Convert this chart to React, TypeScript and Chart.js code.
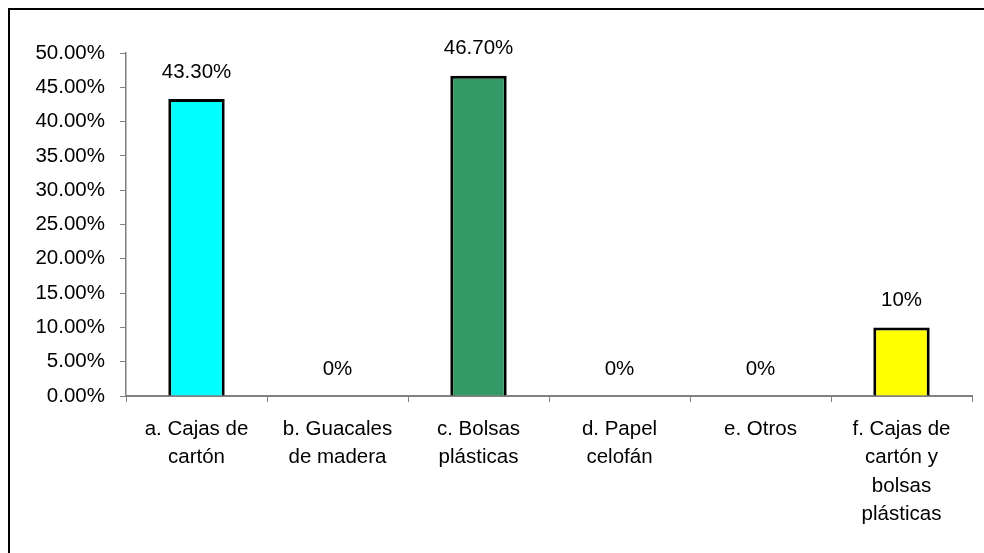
import React, { useEffect, useRef } from "react";
import { Chart, registerables } from "chart.js";

Chart.register(...registerables);

const categories: string[][] = [
  ["a. Cajas de", "cartón"],
  ["b. Guacales", "de madera"],
  ["c. Bolsas", "plásticas"],
  ["d. Papel", "celofán"],
  ["e. Otros"],
  ["f. Cajas de", "cartón y", "bolsas", "plásticas"],
];
const values: number[] = [43.3, 0, 46.7, 0, 0, 10];
const valueLabels: string[] = ["43.30%", "0%", "46.70%", "0%", "0%", "10%"];
const barColors: string[] = ["#00FFFF", "#339966", "#339966", "#339966", "#339966", "#FFFF00"];
const yTickLabels: string[] = [
  "0.00%", "5.00%", "10.00%", "15.00%", "20.00%", "25.00%",
  "30.00%", "35.00%", "40.00%", "45.00%", "50.00%",
];

const FONT = "'Liberation Sans', Arial, sans-serif";
const FONT_SIZE = 20.5;

const valueLabelPlugin = {
  id: "valueLabels",
  afterDatasetsDraw(chart: any) {
    const ctx = chart.ctx;
    const meta = chart.getDatasetMeta(0);
    ctx.save();
    ctx.font = `${FONT_SIZE}px ${FONT}`;
    ctx.fillStyle = "#000";
    ctx.textAlign = "center";
    ctx.textBaseline = "middle";
    meta.data.forEach((bar: any, i: number) => {
      ctx.fillText(valueLabels[i], bar.x, bar.y - 27);
    });
    ctx.restore();
  },
};

export default function App() {
  const ref = useRef<HTMLCanvasElement | null>(null);
  useEffect(() => {
    if (!ref.current) return;
    const chart = new Chart(ref.current, {
      type: "bar",
      data: {
        labels: categories,
        datasets: [
          {
            data: values,
            backgroundColor: barColors,
            borderColor: "#000",
            borderWidth: 3,
            barPercentage: 0.4,
            categoryPercentage: 1,
          },
        ],
      },
      options: {
        animation: false,
        responsive: false,
        maintainAspectRatio: false,
        layout: { padding: { left: 0, top: 53, right: 12, bottom: 0 } },
        plugins: { legend: { display: false }, tooltip: { enabled: false } },
        scales: {
          x: {
            grid: {
              display: true,
              drawOnChartArea: false,
              drawTicks: true,
              tickLength: 6,
              color: "#808080",
              lineWidth: 1,
              offset: true,
            },
            border: { display: true, color: "#808080", width: 2 },
            ticks: {
              color: "#000",
              padding: 13,
              maxRotation: 0,
              autoSkip: false,
              font: { family: FONT, size: FONT_SIZE, lineHeight: 1.39 },
            },
            afterFit(scale: any) {
              scale.height = 157;
            },
          },
          y: {
            min: 0,
            max: 50,
            grid: {
              display: true,
              drawOnChartArea: false,
              drawTicks: true,
              tickLength: 6,
              color: "#808080",
            },
            border: { display: true, color: "#808080", width: 1.5 },
            ticks: {
              stepSize: 5,
              color: "#000",
              padding: 15,
              font: { family: FONT, size: FONT_SIZE },
              callback: (_v: any, i: number) => yTickLabels[i],
            },
            afterFit(scale: any) {
              scale.width = 126;
            },
          },
        },
      },
      plugins: [valueLabelPlugin],
    });
    return () => chart.destroy();
  }, []);
  return (
    <div style={{ position: "fixed", left: 0, top: 0, width: 984, height: 553, overflow: "hidden", background: "#fff" }}>
      <div
        style={{
          position: "absolute",
          left: 8,
          top: 8,
          width: 990,
          height: 560,
          borderTop: "2px solid #000",
          borderLeft: "2px solid #000",
        }}
      />
      <canvas ref={ref} width={984} height={553} style={{ position: "absolute", left: 0, top: 0, width: 984, height: 553 }} />
    </div>
  );
}
